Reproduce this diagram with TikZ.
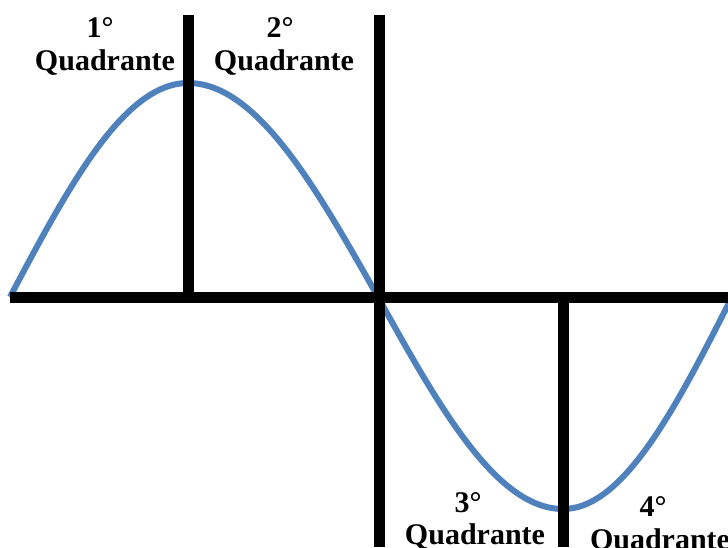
\documentclass[tikz,border=0pt]{standalone}
\usepackage{fontspec}
\setmainfont{Liberation Serif}
\definecolor{curveblue}{RGB}{79,129,189}
\tikzset{
  axisline/.style={line width=8.25pt, black, line cap=butt},
  wave/.style={line width=4.5pt, curveblue},
  lbl/.style={anchor=base, inner sep=0pt, font=\fontsize{22.5}{26}\selectfont\bfseries}
}
\begin{document}
\begin{tikzpicture}[x=0.75pt,y=-0.75pt]
\useasboundingbox (0,0) rectangle (728,547);
\clip (0,0) rectangle (728,547);
% curve
\draw[wave] plot[domain=0:90,samples=40,smooth] ({10+1.97778*\x},{297-214*sin(\x)})
  -- plot[domain=90:180,samples=40,smooth] ({188+2.11111*(\x-90)},{297-214*sin(\x)});
\draw[wave] plot[domain=180:270,samples=40,smooth] ({378+2.05556*(\x-180)},{297-212*sin(\x)})
  -- plot[domain=270:360,samples=40,smooth] ({563+1.87778*(\x-270)},{297-212*sin(\x)});
% axes
\coordinate (hl) at (10,297.5);
\coordinate (hr) at (728,297.5);
\coordinate (v1t) at (188.5,15);
\coordinate (v1b) at (188.5,297.5);
\coordinate (v2t) at (379,15);
\coordinate (v2b) at (379,547);
\coordinate (v3t) at (563.5,297.5);
\coordinate (v3b) at (563.5,547);
\draw[axisline] (hl) -- (hr);
\draw[axisline] (v1t) -- (v1b);
\draw[axisline] (v2t) -- (v2b);
\draw[axisline] (v3t) -- (v3b);
% labels
\node[lbl] (n1) at (100,37) {1°};
\node[lbl] (t1) at (105,70) {Quadrante};
\node[lbl] (n2) at (280,37) {2°};
\node[lbl] (t2) at (284,70) {Quadrante};
\node[lbl] (n3) at (468,512) {3°};
\node[lbl] (t3) at (475,544) {Quadrante};
\node[lbl] (n4) at (653,516) {4°};
\node[lbl] (t4) at (660,549) {Quadrante};
\end{tikzpicture}
\end{document}
